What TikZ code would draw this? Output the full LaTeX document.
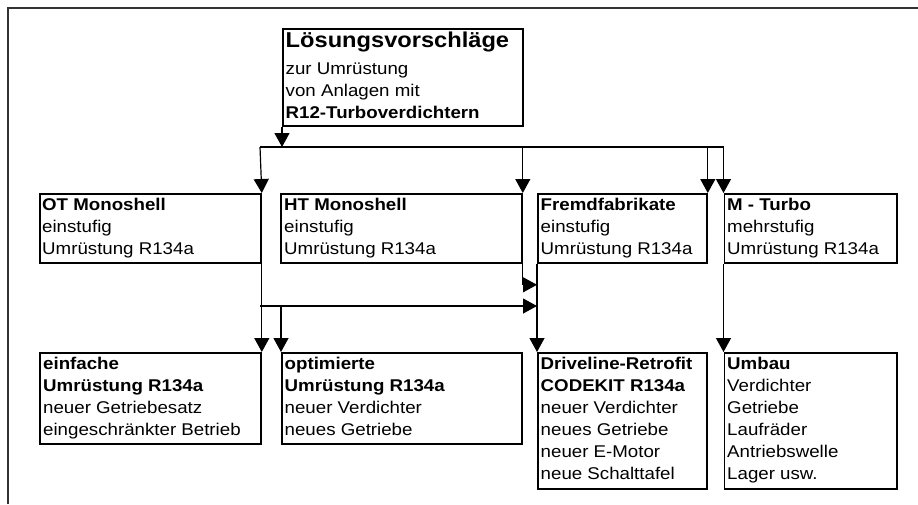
\documentclass[tikz,border=0pt]{standalone}
\usepackage{fontspec}
\setmainfont{Liberation Sans}[FakeStretch=1.1]
\usetikzlibrary{arrows.meta,calc}
\begin{document}
\begin{tikzpicture}[x=1pt,y=-1pt,
  box/.style={draw=black, line width=1.8pt, inner sep=0pt, anchor=north west},
  txt/.style={anchor=base west, inner sep=0pt, font=\fontsize{17}{22}\selectfont},
  conn/.style={line width=1.2pt, black},
  arr/.style={conn, -{Triangle[width=15pt,length=14pt]}},
  frame/.style={line width=1.3pt, black!80}
]
\useasboundingbox (0,0) rectangle (918,504);
\draw[frame] (8,504) -- (8,8) -- (918,8);

% boxes
\node[box, minimum width=240pt, minimum height=97pt] (top) at (282,28) {};
\node[box, minimum width=221pt, minimum height=69pt] (ot) at (39,193) {};
\node[box, minimum width=241pt, minimum height=69pt] (ht) at (280,193) {};
\node[box, minimum width=169pt, minimum height=69pt] (fr) at (537,193) {};
\node[box, minimum width=172.5pt, minimum height=69pt] (mt) at (723.5,193) {};
\node[box, minimum width=221pt, minimum height=91pt] (ein) at (39,352) {};
\node[box, minimum width=240pt, minimum height=91pt] (opt) at (281,352) {};
\node[box, minimum width=169pt, minimum height=136pt] (dr) at (537,352) {};
\node[box, minimum width=172.5pt, minimum height=136pt] (um) at (723.5,352) {};

% texts
\node[txt] (top-t) at (285.5,47) {\begin{tabular}[t]{@{}l@{}}{\fontsize{21.5}{22}\selectfont\bfseries Lösungsvorschläge}\\[5pt]
zur Umrüstung\\ von Anlagen mit\\ \textbf{R12-Turboverdichtern}\end{tabular}};
\node[txt] (ot-t) at (42,210) {\begin{tabular}[t]{@{}l@{}}\textbf{OT Monoshell}\\ einstufig\\ Umrüstung R134a\end{tabular}};
\node[txt] (ht-t) at (284,210) {\begin{tabular}[t]{@{}l@{}}\textbf{HT Monoshell}\\ einstufig\\ Umrüstung R134a\end{tabular}};
\node[txt] (fr-t) at (540.5,210) {\begin{tabular}[t]{@{}l@{}}\textbf{Fremdfabrikate}\\ einstufig\\ Umrüstung R134a\end{tabular}};
\node[txt] (mt-t) at (727,210) {\begin{tabular}[t]{@{}l@{}}\textbf{M - Turbo}\\ mehrstufig\\ Umrüstung R134a\end{tabular}};
\node[txt] (ein-t) at (43,369) {\begin{tabular}[t]{@{}l@{}}\textbf{einfache}\\ \textbf{Umrüstung R134a}\\ neuer Getriebesatz\\ eingeschränkter Betrieb\end{tabular}};
\node[txt] (opt-t) at (284.5,369) {\begin{tabular}[t]{@{}l@{}}\textbf{optimierte}\\ \textbf{Umrüstung R134a}\\ neuer Verdichter\\ neues Getriebe\end{tabular}};
\node[txt] (dr-t) at (540.5,369) {\begin{tabular}[t]{@{}l@{}}\textbf{Driveline-Retrofit}\\ \textbf{CODEKIT R134a}\\ neuer Verdichter\\ neues Getriebe\\ neuer E-Motor\\ neue Schalttafel\end{tabular}};
\node[txt] (um-t) at (727,369) {\begin{tabular}[t]{@{}l@{}}\textbf{Umbau}\\ Verdichter\\ Getriebe\\ Laufräder\\ Antriebswelle\\ Lager usw.\end{tabular}};

% connectors
\coordinate (busL) at (260,147);
\coordinate (busR) at (723.5,147);
\coordinate (mid) at (260,306);
\coordinate (htd) at ($(ht.south east)+(0,21)$);
\draw[conn] (busL) -- (busR);
\draw[arr] (top.south west) -- (top.south west |- busL);
\draw[arr] (busL) -- (ot.north east);
\draw[arr] (ht.north east |- busL) -- (ht.north east);
\draw[arr] (fr.north east |- busL) -- (fr.north east);
\draw[arr] (busR) -- (mt.north west);
\draw[arr] (ot.north east) -- (ein.north east);
\draw[arr] (mid) -- (mid -| dr.west);
\draw[arr] (mid -| opt.north west) -- (opt.north west);
\draw[arr] (ht.south east) -- (htd) -- (htd -| dr.west);
\draw[arr] (fr.south west) -- (dr.north west);
\draw[arr] (mt.south west) -- (um.north west);
\end{tikzpicture}
\end{document}
